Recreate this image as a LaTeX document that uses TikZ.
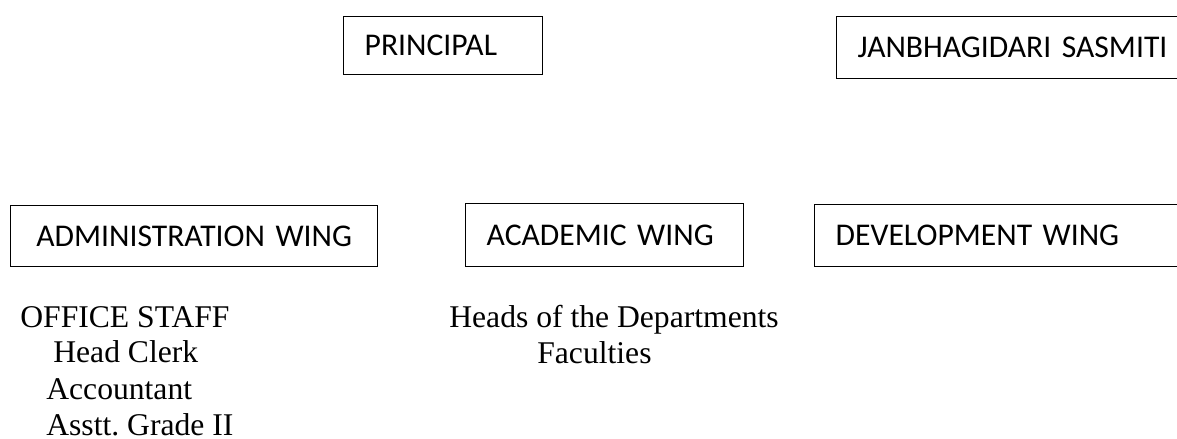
\documentclass[tikz,border=0pt]{standalone}
\usepackage{fontspec}
\setmainfont{Liberation Serif}
\newfontfamily\boxfont{Carlito}
\usepackage{tikz}
\usetikzlibrary{positioning}
\frenchspacing
\tikzstyle{unit} = [rectangle, draw, line width=0.8pt, align=left,
    inner xsep=0.42cm, inner ysep=0pt, anchor=north west,
    font=\boxfont\fontsize{18pt}{21pt}\selectfont]
\tikzstyle{staff} = [anchor=base west, inner sep=0pt,
    font=\fontsize{18pt}{21pt}\selectfont]

\begin{document}
\begin{tikzpicture}[x=0.02cm, y=-0.02cm]
    \path[use as bounding box, clip] (0,0) rectangle (1177,439);

    \node[unit, text width=3.14cm, minimum height=1.16cm] (principal) at (343,16) {PRINCIPAL};
    \node[unit, text width=7.16cm, minimum height=1.24cm] (samiti) at (836,16) {JANBHAGIDARI SASMITI};

    \node[unit, text width=6.5cm, align=center, minimum height=1.22cm] (admin) at (10,205) {ADMINISTRATION WING};
    \node[unit, text width=4.72cm, minimum height=1.26cm] (academic) at (465,203) {ACADEMIC WING};
    \node[unit, text width=7.16cm, minimum height=1.24cm] (develop) at (814,204) {DEVELOPMENT WING};

    \node[staff] (office) at (20,327) {OFFICE STAFF};
    \node[staff] (clerk) at (53,362) {Head Clerk};
    \node[staff] (accountant) at (46,399) {Accountant};
    \node[staff] (asstt) at (46,435) {Asstt. Grade II};

    \node[staff] (heads) at (449,327) {Heads of the Departments};
    \node[staff] (faculties) at (537,363) {Faculties};
\end{tikzpicture}
\end{document}
